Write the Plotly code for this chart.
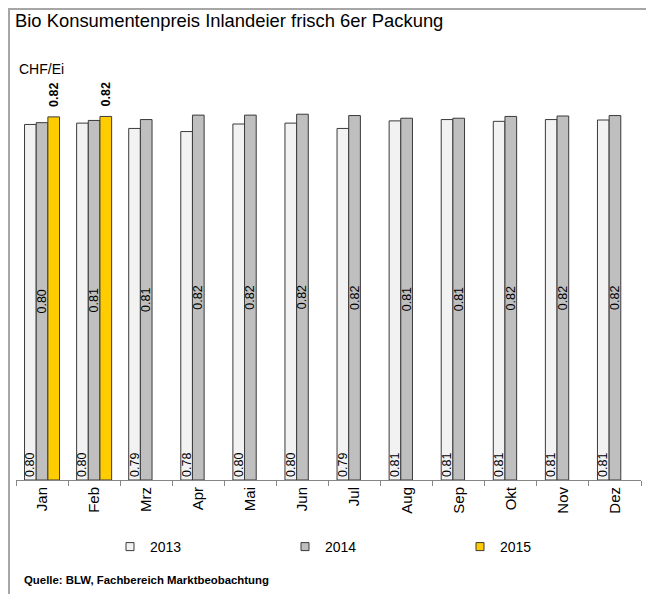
import plotly.graph_objects as go

months = ["Jan", "Feb", "Mrz", "Apr", "Mai", "Jun", "Jul", "Aug", "Sep", "Okt", "Nov", "Dez"]
years = ["2013", "2014", "2015"]
price_2013 = [0.800, 0.803, 0.791, 0.784, 0.801, 0.803, 0.791, 0.808, 0.811, 0.807, 0.811, 0.810]
price_2014 = [0.804, 0.809, 0.811, 0.821, 0.821, 0.823, 0.820, 0.814, 0.814, 0.818, 0.819, 0.820]
price_2015 = [0.817, 0.818, None, None, None, None, None, None, None, None, None, None]
colors = ["#F2F2F2", "#BFBFBF", "#FFCC00"]

FONT = "Arial, Liberation Sans, sans-serif"
OFF = 8  # page body margin of the rendered html
W, H = 654 - OFF, 594 - OFF
# plot area in page pixels: x 16..641, y 80..480
PX0, PX1, PY0, PY1 = 16 - OFF, 641 - OFF, 80 - OFF, 480 - OFF
L, R, T, B = PX0, W - PX1, PY0, H - PY1
plot_w = PX1 - PX0
plot_h = PY1 - PY0
EDGE = "#3A3A3A"


def px(xpage):
    return (xpage - OFF - PX0) / plot_w


def py(ypage):
    return (PY1 - (ypage - OFF)) / plot_h


fig = go.Figure()
fig.add_trace(go.Bar(
    x=months, y=price_2013, name=years[0], showlegend=False,
    marker=dict(color=colors[0], line=dict(color=EDGE, width=1)),
    texttemplate="%{y:.2f}", textposition="inside", insidetextanchor="start",
    textangle=-90, textfont=dict(family=FONT, size=12.5, color="#000000"),
    constraintext="none", cliponaxis=False,
))
fig.add_trace(go.Bar(
    x=months, y=price_2014, name=years[1], showlegend=False,
    marker=dict(color=colors[1], line=dict(color=EDGE, width=1)),
    texttemplate="%{y:.2f}", textposition="inside", insidetextanchor="middle",
    textangle=-90, textfont=dict(family=FONT, size=12.5, color="#000000"),
    constraintext="none", cliponaxis=False,
))
fig.add_trace(go.Bar(
    x=months, y=price_2015, name=years[2], showlegend=False,
    marker=dict(color=colors[2], line=dict(color=EDGE, width=1)),
    texttemplate="\u00a0\u00a0<b>%{y:.2f}</b>", textposition="outside",
    textangle=-90, textfont=dict(family=FONT, size=12.5, color="#000000"),
    constraintext="none", cliponaxis=False,
))
# legend entries (small square swatches like the original)
for yr, col in zip(years, colors):
    fig.add_trace(go.Scatter(
        x=[None], y=[None], mode="markers", name=yr, showlegend=True,
        marker=dict(symbol="square", size=8, color=col, line=dict(color=EDGE, width=1)),
    ))

fig.update_layout(
    width=W, height=H,
    margin=dict(l=L, r=R, t=T, b=B, autoexpand=False),
    paper_bgcolor="white", plot_bgcolor="white",
    barmode="group", bargap=0.328, bargroupgap=0,
    uniformtext=dict(minsize=12.5, mode="show"),
    font=dict(family=FONT, color="#000000"),
    title=dict(
        text="Bio Konsumentenpreis Inlandeier frisch 6er Packung",
        x=(15 - OFF) / W, xanchor="left", xref="container",
        y=1 - (21 - OFF) / H, yanchor="middle", yref="container",
        pad=dict(l=0, r=0, t=0, b=0),
        font=dict(family=FONT, size=18.4, color="#000000"),
    ),
    xaxis=dict(
        type="category", showgrid=False, zeroline=False,
        showline=True, linecolor="#868686", linewidth=1,
        ticks="outside", tickson="boundaries", ticklen=5, tickcolor="#868686",
        tickangle=-90, tickfont=dict(family=FONT, size=15, color="#000000"),
        automargin=False,
    ),
    yaxis=dict(visible=False, range=[0, 0.9]),
    showlegend=True,
    legend=dict(
        orientation="h", xref="container", yref="container",
        x=(110 - OFF) / W, xanchor="left", y=1 - (547 - OFF) / H, yanchor="middle",
        entrywidth=130, entrywidthmode="pixels",
        font=dict(family=FONT, size=14, color="#000000"),
        itemwidth=30, traceorder="normal",
    ),
    annotations=[
        dict(text="CHF/Ei", xref="paper", yref="paper",
             x=px(17), y=py(69),
             xanchor="left", yanchor="middle", showarrow=False,
             font=dict(family=FONT, size=14, color="#000000")),
        dict(text="<b>Quelle: BLW, Fachbereich Marktbeobachtung</b>", xref="paper", yref="paper",
             x=px(22), y=py(580),
             xanchor="left", yanchor="middle", showarrow=False,
             font=dict(family=FONT, size=11.4, color="#000000")),
    ],
    shapes=[
        dict(type="rect", xref="paper", yref="paper",
             x0=px(9), x1=px(650), y0=py(600), y1=py(9),
             line=dict(color="#A6A6A6", width=2), fillcolor="rgba(0,0,0,0)", layer="below"),
    ],
)

fig.write_html("out.html")
